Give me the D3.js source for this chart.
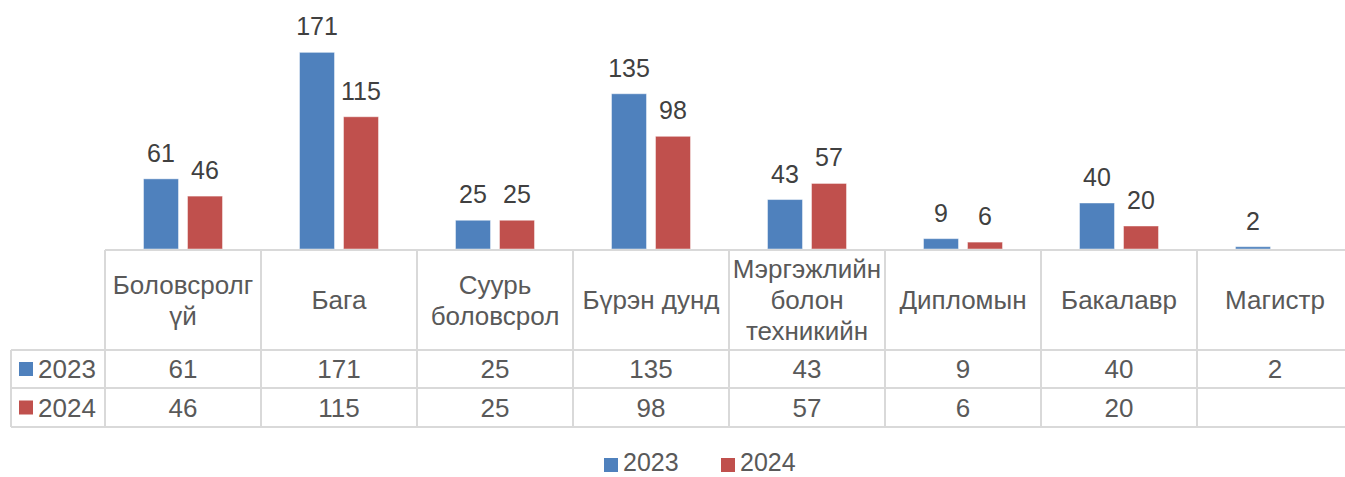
<!DOCTYPE html>
<html>
<head>
<meta charset="utf-8">
<script src="https://cdn.jsdelivr.net/npm/d3@7"></script>
<style>
  body { margin: 0; background: #fff; }
  svg { display: block; font-family: "Liberation Sans", Arial, sans-serif; }
</style>
</head>
<body>
<svg id="chart"></svg>
<script>
const categories = ['Боловсролгүй', 'Бага', 'Суурь боловсрол', 'Бүрэн дунд', 'Мэргэжлийн болон техникийн', 'Дипломын', 'Бакалавр', 'Магистр']
// how the header cells wrap the category names
const categoryLines = [['Боловсролг', 'үй'], ['Бага'], ['Суурь', 'боловсрол'], ['Бүрэн дунд'], ['Мэргэжлийн', 'болон', 'техникийн'], ['Дипломын'], ['Бакалавр'], ['Магистр']]
const seriesNames = ['2023', '2024']
const values2023 = [61, 171, 25, 135, 43, 9, 40, 2]
const values2024 = [46, 115, 25, 98, 57, 6, 20, null]
const colors = ['#4F81BD', '#C0504D']

const width = 1345
const height = 477
const baseY = 249
const tableLeft = 105
const legendColLeft = 11
const rows = [250, 350, 388, 427] // table horizontal lines

const seriesValues = [values2023, values2024]

const svg = d3.select('#chart').attr('width', width).attr('height', height)

// scales
const x0 = d3.scaleBand().domain(categories).range([tableLeft, tableLeft + 8 * 156])
const x1 = d3.scaleBand().domain(seriesNames).range([38.5, 117.5]).paddingInner(9 / 44)
const y = d3.scaleLinear().domain([0, 180]).range([baseY, 42])

// bars
const groups = svg.append('g').selectAll('g').data(categories).enter().append('g')
  .attr('transform', d => `translate(${x0(d)},0)`)

seriesNames.forEach((s, si) => {
  const val = d => seriesValues[si][categories.indexOf(d)]
  const has = groups.filter(d => val(d) != null)
  has.append('rect')
    .attr('x', x1(s))
    .attr('y', d => y(val(d)))
    .attr('width', x1.bandwidth())
    .attr('height', d => baseY - y(val(d)))
    .attr('fill', colors[si])
    .attr('stroke', 'rgba(255,255,255,0.45)')
    .attr('stroke-width', 1)

  has.append('text')
    .attr('x', x1(s) + x1.bandwidth() / 2)
    .attr('y', d => y(val(d)) - 17)
    .attr('text-anchor', 'middle')
    .attr('font-size', 25)
    .attr('fill', '#404040')
    .text(d => val(d))
})

// data table
const grid = svg.append('g').attr('stroke', '#d9d9d9').attr('stroke-width', 2)
grid.append('line').attr('x1', tableLeft).attr('x2', width).attr('y1', rows[0]).attr('y2', rows[0])
rows.slice(1).forEach(r => {
  grid.append('line').attr('x1', legendColLeft).attr('x2', width).attr('y1', r).attr('y2', r)
})
grid.append('line').attr('x1', legendColLeft).attr('x2', legendColLeft).attr('y1', rows[1]).attr('y2', rows[3])
categories.forEach(c => {
  grid.append('line').attr('x1', x0(c)).attr('x2', x0(c)).attr('y1', rows[0]).attr('y2', rows[3])
})

// header labels
const header = svg.append('g').attr('font-size', 26).attr('fill', '#595959').attr('text-anchor', 'middle')
categories.forEach((c, i) => {
  const lines = categoryLines[i]
  const lh = 31
  const mid = (rows[0] + rows[1]) / 2
  lines.forEach((ln, j) => {
    header.append('text')
      .attr('x', x0(c) + x0.bandwidth() / 2)
      .attr('y', mid + (j - (lines.length - 1) / 2) * lh)
      .attr('dy', '0.35em')
      .text(ln)
  })
})

// value rows
seriesNames.forEach((s, si) => {
  const cy = (rows[si + 1] + rows[si + 2]) / 2
  const row = svg.append('g').attr('font-size', 26).attr('fill', '#595959')
  row.append('rect').attr('x', 19).attr('y', cy - 7).attr('width', 14).attr('height', 14).attr('fill', colors[si])
  row.append('text').attr('x', 38).attr('y', cy).attr('dy', '0.35em').text(s)
  categories.forEach((c, i) => {
    if (seriesValues[si][i] == null) return
    row.append('text')
      .attr('x', x0(c) + x0.bandwidth() / 2)
      .attr('y', cy).attr('dy', '0.35em')
      .attr('text-anchor', 'middle')
      .text(seriesValues[si][i])
  })
})

// legend
const legend = svg.append('g').attr('font-size', 25).attr('fill', '#595959')
const legendX = [604, 721]
seriesNames.forEach((s, si) => {
  legend.append('rect').attr('x', legendX[si]).attr('y', 458).attr('width', 14).attr('height', 14).attr('fill', colors[si])
  legend.append('text').attr('x', legendX[si] + 19).attr('y', 471).text(s)
})
</script>
</body>
</html>
